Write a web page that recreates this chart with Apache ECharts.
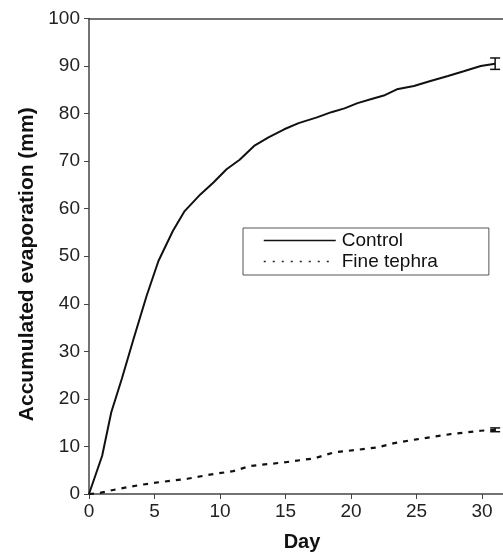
<!DOCTYPE html>
<html>
<head>
<meta charset="utf-8">
<script src="https://cdn.jsdelivr.net/npm/echarts@6/dist/echarts.min.js"></script>
<style>
    html, body {margin: 0; padding: 0; background: #fff;}
    #chart {width: 503px; height: 557px;}
</style>
</head>
<body>
<div id="chart"></div>
<script>
// 数据
var controlDays = [0, 1, 1.7, 2.5, 3.4, 4.4, 5.3, 6.4, 7.3, 8.5, 9.5, 10.5, 11.5, 12.6, 13.7, 14.9, 16, 17.4, 18.5, 19.5, 20.5, 21.5, 22.5, 23.5, 24.8, 26, 27.4, 28.6, 29.9, 31];
var controlVals = [0, 8, 17.2, 24.2, 32.6, 41.7, 49, 55.3, 59.5, 63, 65.5, 68.3, 70.3, 73.2, 75, 76.7, 78, 79.2, 80.3, 81.1, 82.2, 83, 83.8, 85.1, 85.8, 86.8, 87.9, 88.9, 90, 90.5];
var tephraDays = [0, 0.8, 2.1, 3.9, 5.4, 7.5, 9.5, 11, 12.3, 14.9, 17.2, 18.7, 20.5, 22, 23.3, 25, 27.6, 29.9, 31];
var tephraVals = [0, 0.2, 1, 1.9, 2.5, 3.2, 4.2, 4.8, 5.9, 6.65, 7.5, 8.75, 9.3, 9.8, 10.7, 11.5, 12.6, 13.3, 13.5];
// 误差线 [day, low, high]
var errorBars = [[31, 89.3, 91.7], [31, 13.1, 13.9]];
var seriesNames = ['Control', 'Fine tephra'];

function pairs(xs, ys) {
    return xs.map(function (x, i) { return [x, ys[i]]; });
}

var chart = echarts.init(document.getElementById('chart'));
var axisColor = '#444';
var option = {
    backgroundColor: '#fff',
    animation: false,
    grid: {left: 89, right: 0, top: 18.5, bottom: 62},
    legend: {
        orient: 'vertical',
        left: 243,
        top: 228,
        padding: [2, 51, 3, 20],
        itemWidth: 72,
        itemHeight: 14,
        itemGap: 0,
        borderColor: '#555',
        borderWidth: 1,
        itemStyle: {opacity: 0},
        textStyle: {fontFamily: 'Liberation Sans', fontSize: 19, lineHeight: 21, color: '#111', padding: [0, 0, 0, 1]},
        data: [
            {name: seriesNames[0], lineStyle: {color: '#111', width: 1.5, type: 'solid'}},
            {name: seriesNames[1], lineStyle: {color: '#222', width: 1.5, type: [2, 7]}}
        ]
    },
    xAxis: [{
        type: 'value',
        min: 0,
        max: 31.6,
        interval: 5,
        name: 'Day',
        nameLocation: 'middle',
        nameGap: 38,
        nameTextStyle: {fontFamily: 'Liberation Sans', fontWeight: 'bold', fontSize: 20, color: '#111', padding: [0, 0, 0, 12]},
        axisLine: {lineStyle: {color: axisColor, width: 1.5}},
        axisTick: {length: 5, lineStyle: {color: axisColor}},
        axisLabel: {fontFamily: 'Liberation Sans', fontSize: 19, color: '#222', margin: 8, showMaxLabel: false},
        splitLine: {show: false}
    }, {
        type: 'value',
        position: 'top',
        min: 0,
        max: 31.6,
        axisLine: {show: true, lineStyle: {color: axisColor, width: 1.5}},
        axisTick: {show: false},
        axisLabel: {show: false},
        splitLine: {show: false}
    }],
    yAxis: {
        type: 'value',
        min: 0,
        max: 100,
        interval: 10,
        name: 'Accumulated evaporation (mm)',
        nameLocation: 'middle',
        nameGap: 50,
        nameTextStyle: {fontFamily: 'Liberation Sans', fontWeight: 'bold', fontSize: 21, color: '#111', padding: [0, 16, 0, 0]},
        axisLine: {show: true, lineStyle: {color: axisColor, width: 1.5}},
        axisTick: {show: true, length: 5, lineStyle: {color: axisColor}},
        axisLabel: {fontFamily: 'Liberation Sans', fontSize: 19, color: '#222', margin: 9},
        splitLine: {show: false}
    },
    series: [{
        name: seriesNames[0],
        type: 'line',
        data: pairs(controlDays, controlVals),
        symbol: 'none',
        lineStyle: {color: '#111', width: 2}
    }, {
        name: seriesNames[1],
        type: 'line',
        data: pairs(tephraDays, tephraVals),
        symbol: 'none',
        lineStyle: {color: '#111', width: 2.2, type: [5, 6]}
    }, {
        type: 'custom',
        data: errorBars,
        renderItem: function (params, api) {
            var lo = api.coord([api.value(0), api.value(1)]);
            var hi = api.coord([api.value(0), api.value(2)]);
            var w = 5;
            var style = {stroke: '#111', lineWidth: 1.5};
            return {
                type: 'group',
                children: [
                    {type: 'line', shape: {x1: lo[0], y1: lo[1], x2: hi[0], y2: hi[1]}, style: style},
                    {type: 'line', shape: {x1: lo[0] - w, y1: lo[1], x2: lo[0] + w, y2: lo[1]}, style: style},
                    {type: 'line', shape: {x1: hi[0] - w, y1: hi[1], x2: hi[0] + w, y2: hi[1]}, style: style}
                ]
            };
        },
        z: 5
    }]
};
chart.setOption(option);
</script>
</body>
</html>
